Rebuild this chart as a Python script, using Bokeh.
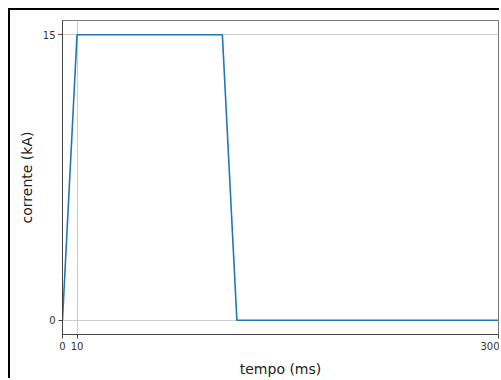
from bokeh.plotting import figure
from bokeh.models import Range1d, FixedTicker
from bokeh.embed import file_html
from bokeh.resources import INLINE

# data
tempo_ms = [0, 10, 110, 120, 300]
corrente_kA = [0, 15, 15, 0, 0]
x_ticks = [0, 10, 300]
y_ticks = [0, 15]
x_label = "tempo (ms)"
y_label = "corrente (kA)"

FONT = "DejaVu Sans"

p = figure(width=491, height=370, output_backend="svg", toolbar_location=None,
           x_range=Range1d(0, 300), y_range=Range1d(-0.75, 15.75),
           min_border_left=52, min_border_right=3, min_border_top=10,
           min_border_bottom=46)
p.styles = {"margin-left": "8px", "margin-top": "8px",
            "border-left": "2px solid black", "border-top": "2px solid black"}

p.background_fill_color = "white"
p.border_fill_color = "white"
p.outline_line_color = "#777777"
p.outline_line_width = 1

p.line(tempo_ms, corrente_kA, line_color="#1f77b4", line_width=1.6)

for ax in (p.xaxis[0], p.yaxis[0]):
    ax.axis_line_color = "#444444"
    ax.major_tick_line_color = "#444444"
    ax.major_tick_out = 4
    ax.major_tick_in = 0
    ax.minor_tick_line_color = None
    ax.major_label_text_font = FONT
    ax.major_label_text_font_size = "10px"
    ax.major_label_text_color = "#333333"
    ax.axis_label_text_font = FONT
    ax.axis_label_text_font_size = "14px"
    ax.axis_label_text_font_style = "normal"
    ax.axis_label_text_color = "#222222"
    ax.major_label_standoff = 3

p.xaxis.ticker = FixedTicker(ticks=x_ticks)
p.yaxis.ticker = FixedTicker(ticks=y_ticks)
p.xaxis.axis_label = x_label
p.yaxis.axis_label = y_label
p.xaxis.axis_label_standoff = 8
p.yaxis.axis_label_standoff = 5

p.xgrid.ticker = FixedTicker(ticks=x_ticks)
p.ygrid.ticker = FixedTicker(ticks=y_ticks)
p.grid.grid_line_color = "#cccccc"
p.grid.grid_line_width = 1

open("out.html", "w").write(file_html(p, INLINE))
